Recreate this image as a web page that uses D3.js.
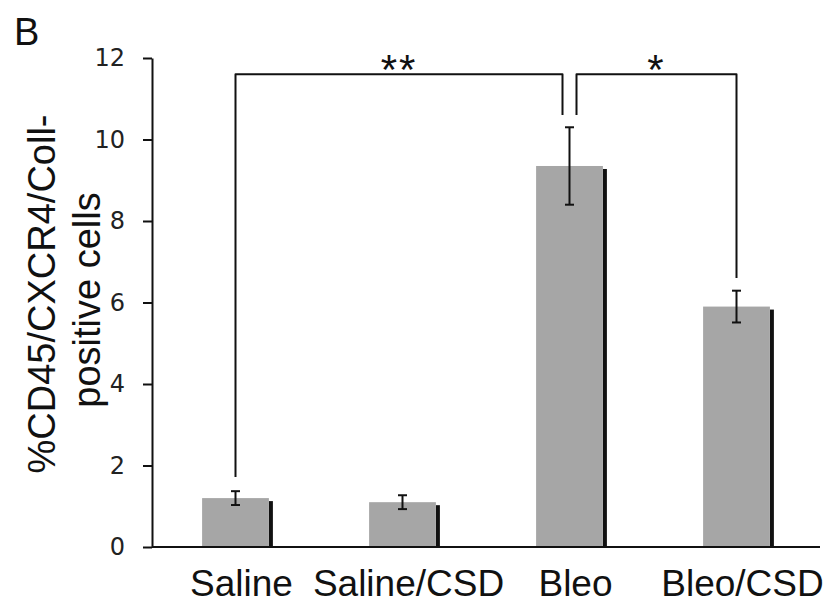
<!DOCTYPE html>
<html>
<head>
<meta charset="utf-8">
<script src="https://cdn.jsdelivr.net/npm/d3@7"></script>
<style>
  body { margin: 0; background: #fff; }
  text { font-family: "Liberation Sans", Arial, sans-serif; }
</style>
</head>
<body>
<div id="chart"></div>
<script>
(() => {

    ////////////// data ////////////////

    const categories = ['Saline', 'Saline/CSD', 'Bleo', 'Bleo/CSD']
    const means = [1.2, 1.1, 9.35, 5.9]
    const errors = [0.17, 0.17, 0.95, 0.39]
    const yTicks = [0, 2, 4, 6, 8, 10, 12]

    // significance brackets: from/to category, level of the top, leg ends, label
    const bracketFrom = ['Saline', 'Bleo']
    const bracketTo = ['Bleo', 'Bleo/CSD']
    const bracketTop = [11.6, 11.6]
    const bracketLegFrom = [1.72, 10.6]
    const bracketLegTo = [10.6, 6.6]
    const bracketLabel = ['**', '*']

    //////////// SVG Setup /////////////

    const svgWidth = 839
    const svgHeight = 603
    const margin = { left: 152, right: 19, top: 58, bottom: 56 }
    const width = svgWidth - margin.left - margin.right
    const height = svgHeight - margin.top - margin.bottom

    const root = d3.select('#chart')
        .append('svg')
        .attr('width', svgWidth)
        .attr('height', svgHeight)

    const svg = root.append('g')
        .attr('transform', 'translate(' + margin.left + ',' + margin.top + ')')

    const barColor = '#a6a6a6'
    const ink = '#111'

    //////////////scales////////////////

    const xScale = d3.scaleBand()
        .domain(categories)
        .range([0, width])
        .paddingInner(0.6)
        .paddingOuter(0.3)

    const yScale = d3.scaleLinear()
        .domain([0, 12])
        .range([height, 0])

    const cx = c => xScale(c) + xScale.bandwidth() / 2

    ///////////////axis/////////////////

    const yAxis = svg.append('g')
        .call(d3.axisLeft(yScale).tickValues(yTicks).tickSize(9).tickPadding(18).tickSizeOuter(0))
    yAxis.select('.domain').attr('stroke', ink).attr('stroke-width', 2)
    yAxis.selectAll('.tick line').attr('stroke', ink).attr('stroke-width', 2)
    yAxis.selectAll('.tick text')
        .attr('fill', '#222')
        .style('font-family', '"DejaVu Sans", Verdana, sans-serif')
        .style('font-size', '24px')

    const xAxis = svg.append('g')
        .attr('transform', 'translate(0,' + height + ')')
        .call(d3.axisBottom(xScale).tickSize(0).tickPadding(23))
    xAxis.select('.domain').remove()
    xAxis.selectAll('.tick text')
        .attr('fill', '#111')
        .attr('dx', 6)
        .attr('dy', '0.71em')
        .style('font-size', '37px')

    ////////////// bars ////////////////

    // dark shadow strip on the right of each bar
    svg.selectAll('.shadow')
        .data(categories)
        .join('rect')
        .attr('class', 'shadow')
        .attr('x', d => xScale(d) + xScale.bandwidth())
        .attr('y', (d, i) => yScale(means[i]) + 3)
        .attr('width', 4)
        .attr('height', (d, i) => height - yScale(means[i]) - 3)
        .attr('fill', ink)

    svg.selectAll('.bar')
        .data(categories)
        .join('rect')
        .attr('class', 'bar')
        .attr('x', d => xScale(d))
        .attr('y', (d, i) => yScale(means[i]))
        .attr('width', xScale.bandwidth())
        .attr('height', (d, i) => height - yScale(means[i]))
        .attr('fill', barColor)

    // x axis baseline drawn over the bars
    svg.append('line')
        .attr('x1', 0).attr('x2', width)
        .attr('y1', height).attr('y2', height)
        .attr('stroke', ink).attr('stroke-width', 2)

    // error bars
    const err = svg.selectAll('.err')
        .data(categories)
        .join('g')
        .attr('class', 'err')
        .attr('stroke', ink)
        .attr('stroke-width', 2)
        .attr('fill', 'none')

    const cap = 4.5
    err.append('line')
        .attr('x1', d => cx(d)).attr('x2', d => cx(d))
        .attr('y1', (d, i) => yScale(means[i] + errors[i]))
        .attr('y2', (d, i) => yScale(means[i] - errors[i]))
    err.append('line')
        .attr('x1', d => cx(d) - cap).attr('x2', d => cx(d) + cap)
        .attr('y1', (d, i) => yScale(means[i] + errors[i]))
        .attr('y2', (d, i) => yScale(means[i] + errors[i]))
    err.append('line')
        .attr('x1', d => cx(d) - cap).attr('x2', d => cx(d) + cap)
        .attr('y1', (d, i) => yScale(means[i] - errors[i]))
        .attr('y2', (d, i) => yScale(means[i] - errors[i]))

    ////////////// brackets ////////////////

    // legs that land on the same bar are nudged apart
    const legX = (c, side) => {
        const shared = bracketFrom.includes(c) && bracketTo.includes(c)
        return cx(c) + (shared ? side * 7 : 0)
    }

    bracketLabel.forEach((lab, i) => {
        const x1 = legX(bracketFrom[i], 1)
        const x2 = legX(bracketTo[i], -1)
        const yTop = yScale(bracketTop[i])
        svg.append('path')
            .attr('d', 'M' + x1 + ',' + yScale(bracketLegFrom[i]) +
                'V' + yTop + 'H' + x2 + 'V' + yScale(bracketLegTo[i]))
            .attr('fill', 'none')
            .attr('stroke', ink)
            .attr('stroke-width', 2)
            .attr('stroke-linejoin', 'round')
        svg.append('text')
            .attr('x', (x1 + x2) / 2)
            .attr('y', yTop + 10)
            .attr('text-anchor', 'middle')
            .attr('fill', ink)
            .attr('letter-spacing', 2)
            .style('font-size', '42px')
            .text(lab)
    })

    ////////////// titles ////////////////

    root.append('text')
        .attr('x', 14)
        .attr('y', 45)
        .attr('fill', ink)
        .style('font-size', '38px')
        .text('B')

    const yTitle = root.append('text')
        .attr('transform', 'translate(55,294) rotate(-90)')
        .attr('text-anchor', 'middle')
        .attr('fill', ink)
        .style('font-size', '38px')
    yTitle.append('tspan').attr('x', 0).attr('y', 0).text('%CD45/CXCR4/Coll-')
    yTitle.append('tspan').attr('x', -6).attr('y', 45).text('positive cells')

})()
</script>
</body>
</html>
